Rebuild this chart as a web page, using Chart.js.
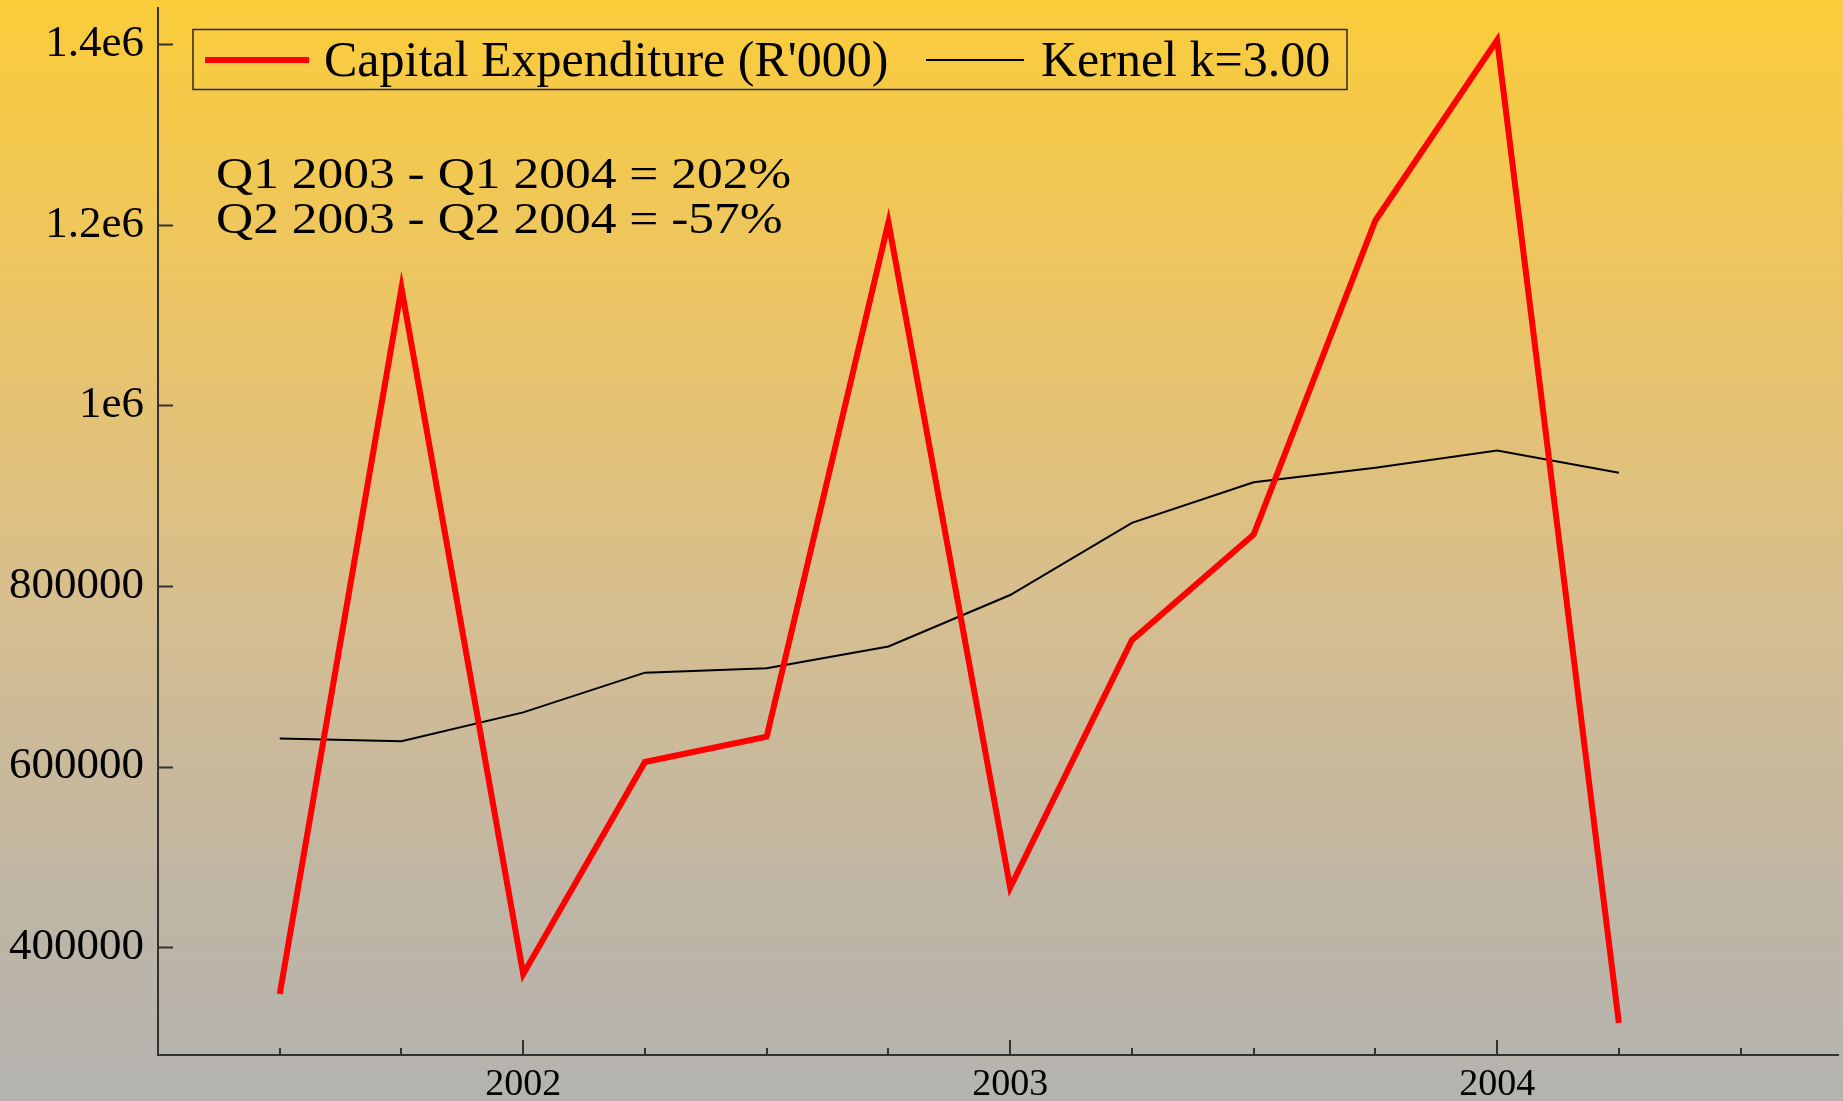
<!DOCTYPE html>
<html>
<head>
<meta charset="utf-8">
<script src="https://cdn.jsdelivr.net/npm/chart.js@4.4.1/dist/chart.umd.min.js"></script>
<style>
  html, body { margin: 0; padding: 0; background: #b5b4b0; }
  canvas { display: block; }
</style>
</head>
<body>
<canvas id="chart" width="1843" height="1101"></canvas>
<script>
// quarters as decimal years (Q3 2001 .. Q2 2004)
const quarterX = [2001.5, 2001.75, 2002, 2002.25, 2002.5, 2002.75, 2003, 2003.25, 2003.5, 2003.75, 2004, 2004.25]
const capex = [348000, 1130000, 370000, 605000, 633000, 1203000, 466000, 740000, 857000, 1205000, 1405000, 316000]
const kernel = [631000, 628000, 660000, 704000, 709000, 733000, 790000, 870000, 915000, 931000, 950000, 925500]

const seriesNames = ["Capital Expenditure (R'000)", 'Kernel k=3.00']
const notes = ['Q1 2003 - Q1 2004 = 202%', 'Q2 2003 - Q2 2004 = -57%']

const yTicks = [400000, 600000, 800000, 1000000, 1200000, 1400000]
const yTickLabels = ['400000', '600000', '800000', '1e6', '1.2e6', '1.4e6']
const xTicks = [2001.5, 2001.75, 2002, 2002.25, 2002.5, 2002.75, 2003, 2003.25, 2003.5, 2003.75, 2004, 2004.25, 2004.5]
const xTickLabels = [2002, 2003, 2004]

const serif = "'Liberation Serif', 'Times New Roman', serif"
const axisColor = '#333'

const background = {
  id: 'background',
  beforeDraw(chart) {
    const { ctx, width, height } = chart
    const g = ctx.createLinearGradient(0, 0, 0, height)
    g.addColorStop(0, 'rgb(250,204,58)')
    g.addColorStop(0.3, 'rgb(234,196,105)')
    g.addColorStop(0.55, 'rgb(214,190,143)')
    g.addColorStop(0.8, 'rgb(192,182,164)')
    g.addColorStop(1, 'rgb(180,179,176)')
    ctx.save()
    ctx.fillStyle = g
    ctx.fillRect(0, 0, width, height)
    ctx.restore()
  },
}

// inward tick marks, drawn from the scales
const innerTicks = {
  id: 'innerTicks',
  afterDraw(chart) {
    const { ctx, scales } = chart
    const x = scales.x
    const y = scales.y
    ctx.save()
    ctx.strokeStyle = axisColor
    ctx.lineWidth = 2
    ctx.beginPath()
    yTicks.forEach((v) => {
      const py = Math.round(y.getPixelForValue(v)) + 0.5
      ctx.moveTo(x.left, py)
      ctx.lineTo(x.left + 15, py)
    })
    xTicks.forEach((v) => {
      const px = Math.round(x.getPixelForValue(v))
      const len = xTickLabels.includes(v) ? 15 : 7
      ctx.moveTo(px, y.bottom)
      ctx.lineTo(px, y.bottom - len)
    })
    ctx.stroke()
    ctx.restore()
  },
}

const legendBox = {
  id: 'legendBox',
  afterDraw(chart) {
    const { ctx } = chart
    const ds = chart.data.datasets
    ctx.save()
    ctx.strokeStyle = '#2e2a1a'
    ctx.lineWidth = 1.5
    ctx.strokeRect(193, 29.5, 1154, 60)

    ctx.lineWidth = ds[0].borderWidth
    ctx.strokeStyle = ds[0].borderColor
    ctx.beginPath()
    ctx.moveTo(205, 60)
    ctx.lineTo(309, 60)
    ctx.stroke()

    ctx.lineWidth = ds[1].borderWidth
    ctx.strokeStyle = ds[1].borderColor
    ctx.beginPath()
    ctx.moveTo(926, 60)
    ctx.lineTo(1024, 60)
    ctx.stroke()

    ctx.fillStyle = '#000'
    ctx.font = '50px ' + serif
    ctx.textBaseline = 'alphabetic'
    ctx.fillText(seriesNames[0], 324, 76)
    ctx.fillText(seriesNames[1], 1041, 76)

    ctx.font = '44px ' + serif
    notes.forEach((t, i) => {
      ctx.save()
      ctx.translate(216, 188 + i * 45)
      ctx.scale(1.17, 1)
      ctx.fillText(t, 0, 0)
      ctx.restore()
    })
    ctx.restore()
  },
}

new Chart(document.getElementById('chart'), {
  type: 'line',
  data: {
    datasets: [
      {
        label: seriesNames[0],
        data: quarterX.map((x, i) => ({ x, y: capex[i] })),
        borderColor: '#ff0000',
        borderWidth: 6,
        pointRadius: 0,
        fill: false,
        tension: 0,
      },
      {
        label: seriesNames[1],
        data: quarterX.map((x, i) => ({ x, y: kernel[i] })),
        borderColor: '#000000',
        borderWidth: 2,
        pointRadius: 0,
        fill: false,
        tension: 0,
      },
    ],
  },
  options: {
    responsive: false,
    animation: false,
    devicePixelRatio: 1,
    layout: { padding: { top: 8, right: 5, left: 0, bottom: 0 } },
    plugins: {
      legend: { display: false },
      tooltip: { enabled: false },
      title: { display: false },
    },
    scales: {
      x: {
        type: 'linear',
        min: 2001.25,
        max: 2004.7,
        grid: { display: false, drawTicks: false },
        border: { display: true, color: axisColor, width: 2 },
        afterBuildTicks: (scale) => {
          scale.ticks = xTicks.map((v) => ({ value: v }))
        },
        afterFit: (scale) => {
          scale.height = 46
          scale.paddingLeft = 0
          scale.paddingRight = 0
        },
        ticks: {
          autoSkip: false,
          maxRotation: 0,
          padding: 7,
          color: '#000',
          font: { family: serif, size: 38 },
          callback: (v) => (xTickLabels.includes(v) ? String(v) : ''),
        },
      },
      y: {
        type: 'linear',
        min: 280400,
        max: 1440400,
        grid: { display: false, drawTicks: false },
        border: { display: true, color: axisColor, width: 2 },
        afterBuildTicks: (scale) => {
          scale.ticks = yTicks.map((v) => ({ value: v }))
        },
        afterFit: (scale) => {
          scale.width = 158
          scale.paddingTop = 0
          scale.paddingBottom = 0
        },
        ticks: {
          padding: 14,
          color: '#000',
          font: { family: serif, size: 45 },
          callback: (v, i) => yTickLabels[i],
        },
      },
    },
  },
  plugins: [background, innerTicks, legendBox],
})
</script>
</body>
</html>
